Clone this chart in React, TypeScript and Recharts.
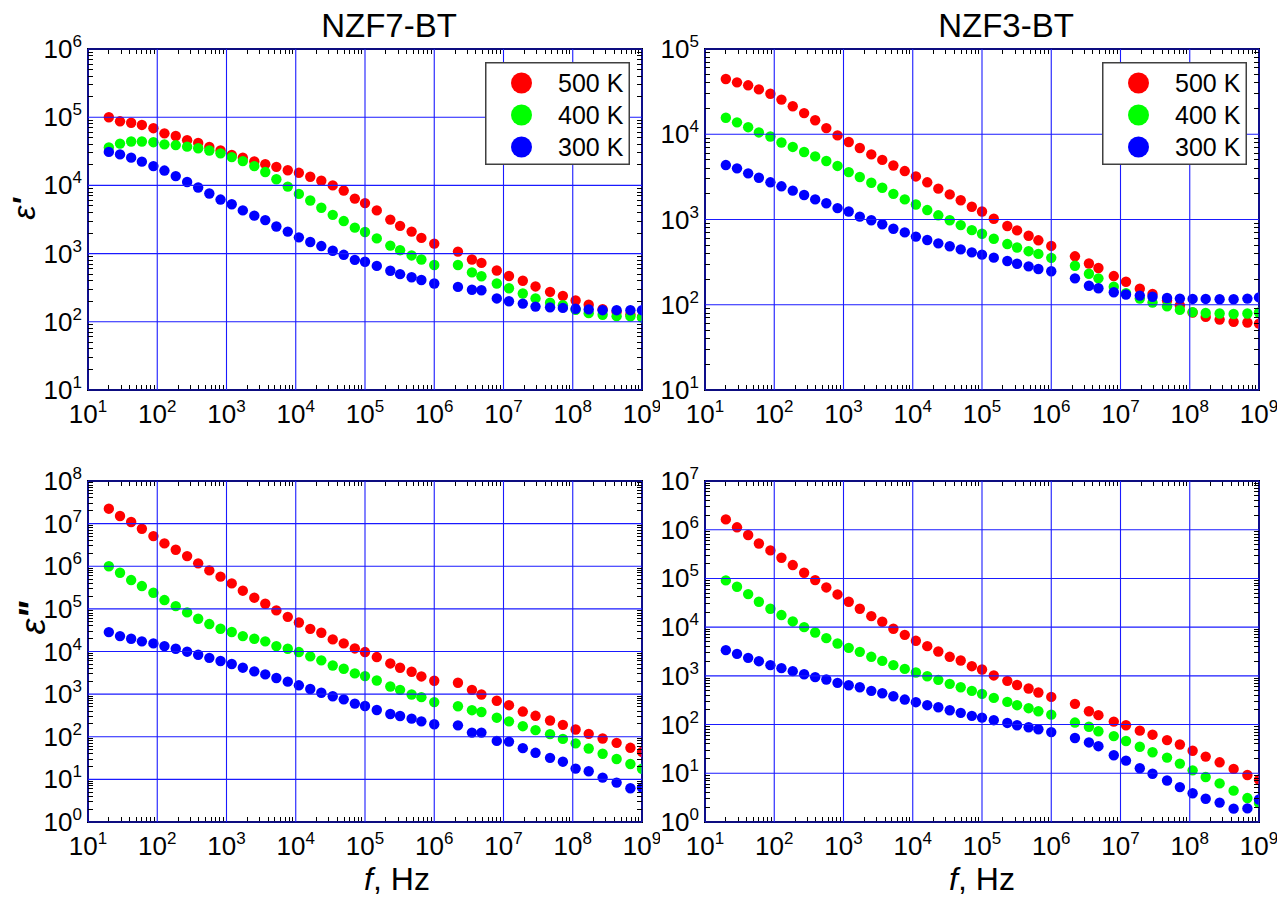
import React from "react";
import { Legend, ReferenceArea, Scatter, ScatterChart, XAxis, YAxis } from "recharts";

const FONT = "Arial, 'Liberation Sans', Helvetica, sans-serif";
const GRID = "#1a1aff";

// measurement frequencies (Hz): 30 points up to 1 MHz, 15 points above
const freqHz = [
  20, 29, 42, 60, 88, 127, 185, 270, 390, 565, 820, 1190, 1720, 2520, 3630, 5250, 7670, 11100, 16200, 23400,
  34200, 49300, 71300, 100000, 148000, 232000, 321000, 471000, 652000, 1000000,
  2200000, 3500000, 4800000, 8000000, 12000000, 19000000, 29000000, 47000000, 72000000, 110000000,
  170000000, 270000000, 430000000, 680000000, 1000000000,
];

const temperatures = ["500 K", "400 K", "300 K"];
const seriesColors = ["#ff0000", "#00ff00", "#0000ff"];

// NZF7-BT, real permittivity
const nzf7Re500 = [
  100000, 87000, 83000, 77000, 69000, 58000, 53000, 46000, 42000, 36500, 32500, 28000, 25500, 22500, 20500,
  18700, 16700, 15300, 13400, 11700, 10000, 8400, 6400, 5500, 4300, 3150, 2550, 2100, 1700, 1400,
  1070, 820, 730, 565, 470, 400, 330, 275, 240, 205, 178, 153, 140, 128, 118,
];
const nzf7Re400 = [
  36000, 41000, 44000, 44000, 43000, 40000, 39000, 37000, 35000, 32500, 29500, 26000, 22700, 19200, 15700,
  12300, 9600, 7500, 6000, 4700, 3700, 3000, 2400, 2070, 1670, 1310, 1120, 940, 820, 680,
  680, 530, 465, 365, 310, 260, 220, 190, 175, 150, 134, 127, 121, 120, 115,
];
const nzf7Re300 = [
  31000, 28500, 25500, 22300, 19200, 16500, 13700, 11200, 9300, 7600, 6200, 5300, 4300, 3600, 3100,
  2500, 2100, 1730, 1480, 1290, 1100, 960, 810, 760, 660, 560, 500, 450, 410, 365,
  325, 295, 290, 220, 200, 185, 167, 163, 160, 155, 152, 148, 148, 148, 148,
];

// NZF3-BT, real permittivity
const nzf3Re500 = [
  44500, 40600, 37500, 33600, 29900, 25500, 21300, 17700, 14600, 11800, 9700, 8100, 6900, 5800, 5000,
  4300, 3700, 3200, 2730, 2300, 1970, 1680, 1410, 1240, 1020, 840, 745, 645, 570, 490,
  370, 305, 270, 217, 186, 154, 134, 112, 98, 81, 72, 67, 63, 62, 60,
];
const nzf3Re400 = [
  15600, 13800, 12100, 10500, 9400, 8000, 7100, 6200, 5500, 4850, 4250, 3600, 3150, 2700, 2360,
  2000, 1720, 1500, 1290, 1120, 980, 860, 750, 680, 595, 515, 470, 425, 395, 355,
  287, 231, 204, 163, 137, 118, 106, 96, 87, 82, 80, 79, 78, 79, 81,
];
const nzf3Re300 = [
  4350, 3980, 3480, 3090, 2730, 2450, 2180, 1940, 1720, 1550, 1360, 1240, 1080, 980, 880,
  780, 706, 630, 575, 525, 485, 446, 412, 387, 357, 326, 303, 282, 263, 247,
  204, 167, 156, 140, 132, 128, 124, 120, 118, 117, 117, 116, 116, 118, 122,
];

// NZF7-BT, imaginary permittivity
const nzf7Im500 = [
  22400000, 15100000, 10900000, 7600000, 5100000, 3440000, 2440000, 1730000, 1170000, 800000, 570000, 396000,
  267000, 183000, 132000, 92000, 65000, 48000, 34000, 27500, 19200, 15500, 11800, 9700, 7400, 5250, 4150,
  3340, 2600, 2060,
  1850, 1260, 980, 700, 550, 390, 310, 240, 190, 148, 117, 91, 72, 55, 44,
];
const nzf7Im400 = [
  1000000, 705000, 474000, 343000, 239000, 161000, 116000, 82600, 58700, 44000, 34200, 28600, 23000, 19900,
  17300, 13400, 11600, 9700, 7700, 6200, 4700, 3940, 3060, 2650, 2090, 1510, 1260, 980, 850, 650,
  520, 420, 380, 280, 230, 177, 143, 115, 89, 70, 53, 40, 30, 23, 17.7,
];
const nzf7Im300 = [
  28500, 23000, 19900, 17300, 15500, 13400, 11600, 9900, 8400, 7100, 6000, 5100, 4170, 3420, 2900,
  2390, 1960, 1610, 1320, 1080, 890, 755, 600, 527, 425, 342, 307, 266, 230, 196,
  185, 125, 125, 80, 77, 54, 42, 32, 26, 17.9, 15.5, 11, 8.4, 6.2, 6.4,
];

// NZF3-BT, imaginary permittivity
const nzf3Im500 = [
  1630000, 1120000, 780000, 520000, 376000, 266000, 188000, 131000, 92400, 65300, 46900, 33200, 23800, 16800,
  12900, 9250, 6950, 5240, 4070, 3160, 2460, 2070, 1580, 1350, 1020, 790, 650, 550, 455, 370,
  266, 188, 156, 115, 97, 75, 62, 48, 39, 29, 22, 16.8, 12.3, 9.2, 7.4,
];
const nzf3Im400 = [
  91000, 67400, 47700, 33200, 23800, 17700, 13100, 10000, 7760, 5940, 4620, 3760, 3110, 2460, 2030,
  1660, 1390, 1170, 984, 828, 685, 585, 492, 427, 353, 292, 250, 217, 188, 160,
  110, 90, 73, 58, 46, 35, 27, 21, 15.8, 11.5, 8.4, 6.2, 4.4, 3.1, 2.45,
];
const nzf3Im300 = [
  3370, 2830, 2340, 2000, 1660, 1440, 1250, 1080, 940, 841, 718, 643, 585, 492, 440,
  382, 326, 288, 250, 227, 197, 174, 151, 139, 123, 108, 97, 88, 80, 70,
  53, 43, 36, 23.4, 18.2, 12.7, 9.8, 7.1, 5.2, 3.9, 3.0, 2.5, 1.88, 1.9, 2.9,
];

// decade ticks
const freqDecades = [1e1, 1e2, 1e3, 1e4, 1e5, 1e6, 1e7, 1e8, 1e9];
const re7Decades = [1e1, 1e2, 1e3, 1e4, 1e5, 1e6];
const re3Decades = [1e1, 1e2, 1e3, 1e4, 1e5];
const im7Decades = [1e0, 1e1, 1e2, 1e3, 1e4, 1e5, 1e6, 1e7, 1e8];
const im3Decades = [1e0, 1e1, 1e2, 1e3, 1e4, 1e5, 1e6, 1e7];

// plot box inside every chart (same for all four)
const PLOT_L = 88;
const PLOT_T = 49;
const PLOT_W = 554;
const PLOT_H = 341;
const PLOT_R = PLOT_L + PLOT_W;
const PLOT_B = PLOT_T + PLOT_H;
const CHART_W = 660;

const withMinor = (decades: number[]) => {
  const out: number[] = [];
  decades.forEach((d, i) => {
    out.push(d);
    if (i < decades.length - 1) for (let m = 2; m <= 9; m++) out.push(m * d);
  });
  return out;
};

const expOf = (v: number) => Math.round(Math.log10(v));
const isDecade = (v: number) => Math.abs(Math.log10(v) - expOf(v)) < 1e-6;
// snap the short 1px tick marks onto a pixel column/row
const crisp = (c: number) => Math.floor(c) + 0.5;

const Power = ({ px, py, anchor, value }: { px: number; py: number; anchor: "middle" | "end"; value: number }) => (
  <text x={px} y={py} textAnchor={anchor} fontSize={26} fontFamily={FONT} fill="#000">
    10
    <tspan dy={-11} fontSize={17}>
      {expOf(value)}
    </tspan>
  </text>
);

// x ticks: decade -> grid line + label, otherwise short inward marks top and bottom
const XTick = (props: any) => {
  const { x, payload } = props;
  if (isDecade(payload.value)) {
    return (
      <g>
        <line x1={x} x2={x} y1={PLOT_T} y2={PLOT_B} stroke={GRID} strokeWidth={1.1} />
        <Power px={x} py={PLOT_B + 33} anchor="middle" value={payload.value} />
      </g>
    );
  }
  const cx = crisp(x);
  return (
    <g>
      <line x1={cx} x2={cx} y1={PLOT_B} y2={PLOT_B - 5} stroke="#000" strokeWidth={1} />
      <line x1={cx} x2={cx} y1={PLOT_T} y2={PLOT_T + 5} stroke="#000" strokeWidth={1} />
    </g>
  );
};

const YTick = (props: any) => {
  const { y, payload } = props;
  if (isDecade(payload.value)) {
    return (
      <g>
        <line x1={PLOT_L} x2={PLOT_R} y1={y} y2={y} stroke={GRID} strokeWidth={1.1} />
        <Power px={PLOT_L - 6} py={y + 9} anchor="end" value={payload.value} />
      </g>
    );
  }
  const cy = crisp(y);
  return (
    <g>
      <line x1={PLOT_L} x2={PLOT_L + 5} y1={cy} y2={cy} stroke="#000" strokeWidth={1} />
      <line x1={PLOT_R} x2={PLOT_R - 5} y1={cy} y2={cy} stroke="#000" strokeWidth={1} />
    </g>
  );
};

const LegendBox = () => (
  <svg width={145} height={103} style={{ display: "block" }}>
    <rect x={0.75} y={0.75} width={143.5} height={101.5} fill="#fff" stroke="#404040" strokeWidth={1.5} />
    {temperatures.map((t, i) => (
      <g key={t}>
        <circle cx={36.5} cy={21 + 32 * i} r={10.5} fill={seriesColors[i]} />
        <text x={73} y={30 + 32 * i} fontSize={25} fontFamily={FONT} fill="#000">
          {t}
        </text>
      </g>
    ))}
  </svg>
);

const Title = ({ text }: any) => (
  <text x={389} y={37} textAnchor="middle" fontSize={33} fontFamily={FONT} fill="#000">
    {text}
  </text>
);

// rotated ε label; the text baseline runs vertically at bx
const EpsLabel = ({ bx, by, primes, size }: any) => (
  <text
    x={bx}
    y={by}
    transform={`rotate(-90 ${bx} ${by})`}
    textAnchor="middle"
    fontSize={size}
    fontFamily={FONT}
    fill="#000"
  >
    <tspan fontStyle="italic">ε</tspan>
    <tspan fontWeight="bold" fontStyle="italic">
      {primes}
    </tspan>
  </text>
);

const FreqLabel = ({ cxText }: any) => (
  <text x={cxText} y={458} textAnchor="middle" fontSize={32} fontFamily={FONT} fill="#000">
    <tspan fontStyle="italic">f</tspan>, Hz
  </text>
);

const panels = [
  { id: "nzf7-re", left: 0, top: 0, height: 440, title: "NZF7-BT", decades: re7Decades, series: [nzf7Re500, nzf7Re400, nzf7Re300], eps: { bx: 35, by: 209, primes: "'", size: 32 } },
  { id: "nzf3-re", left: 617, top: 0, height: 440, title: "NZF3-BT", decades: re3Decades, series: [nzf3Re500, nzf3Re400, nzf3Re300] },
  { id: "nzf7-im", left: 0, top: 432, height: 465, decades: im7Decades, series: [nzf7Im500, nzf7Im400, nzf7Im300], eps: { bx: 45, by: 186, primes: '"', size: 36 }, freqX: 397 },
  { id: "nzf3-im", left: 617, top: 432, height: 465, decades: im3Decades, series: [nzf3Im500, nzf3Im400, nzf3Im300], freqX: 365 },
];

const PermittivityPanel = ({ panel }: { panel: (typeof panels)[number] }) => {
  const yLo = panel.decades[0];
  const yHi = panel.decades[panel.decades.length - 1];
  return (
    <div style={{ position: "absolute", left: panel.left, top: panel.top }}>
      <ScatterChart
        width={CHART_W}
        height={panel.height}
        margin={{ top: PLOT_T, right: CHART_W - PLOT_R, bottom: panel.height - PLOT_B - 40, left: PLOT_L - 60 }}
      >
        <XAxis
          type="number"
          dataKey="f"
          scale="log"
          domain={[freqDecades[0], freqDecades[freqDecades.length - 1]]}
          ticks={withMinor(freqDecades)}
          interval={0}
          allowDataOverflow
          height={40}
          axisLine={false}
          tickLine={false}
          tick={<XTick />}
          label={panel.freqX ? <FreqLabel cxText={panel.freqX} /> : undefined}
        />
        <YAxis
          type="number"
          dataKey="v"
          scale="log"
          domain={[yLo, yHi]}
          ticks={withMinor(panel.decades)}
          interval={0}
          allowDataOverflow
          width={60}
          axisLine={false}
          tickLine={false}
          tick={<YTick />}
          label={panel.eps ? <EpsLabel {...panel.eps} /> : undefined}
        />
        <ReferenceArea
          x1={freqDecades[0]}
          x2={freqDecades[freqDecades.length - 1]}
          y1={yLo}
          y2={yHi}
          fill="none"
          stroke="#000"
          strokeWidth={2}
          ifOverflow="visible"
          label={panel.title ? <Title text={panel.title} /> : undefined}
        />
        {panel.series.map((vals, i) => (
          <Scatter
            key={temperatures[i]}
            name={temperatures[i]}
            data={freqHz.map((f, k) => ({ f, v: vals[k] }))}
            fill={seriesColors[i]}
            isAnimationActive={false}
            shape={(p: any) => <circle cx={p.cx} cy={p.cy} r={5.2} fill={seriesColors[i]} />}
          />
        ))}
        {panel.title && (
          <Legend
            layout="horizontal"
            verticalAlign="middle"
            align="center"
            content={<LegendBox />}
            wrapperStyle={{ left: 485, top: 62, width: 145, height: 103 }}
          />
        )}
      </ScatterChart>
    </div>
  );
};

export default function App() {
  return (
    <div style={{ position: "absolute", left: 0, top: 0, width: 1277, height: 897, overflow: "hidden", background: "#fff" }}>
      {panels.map((p) => (
        <PermittivityPanel key={p.id} panel={p} />
      ))}
    </div>
  );
}
